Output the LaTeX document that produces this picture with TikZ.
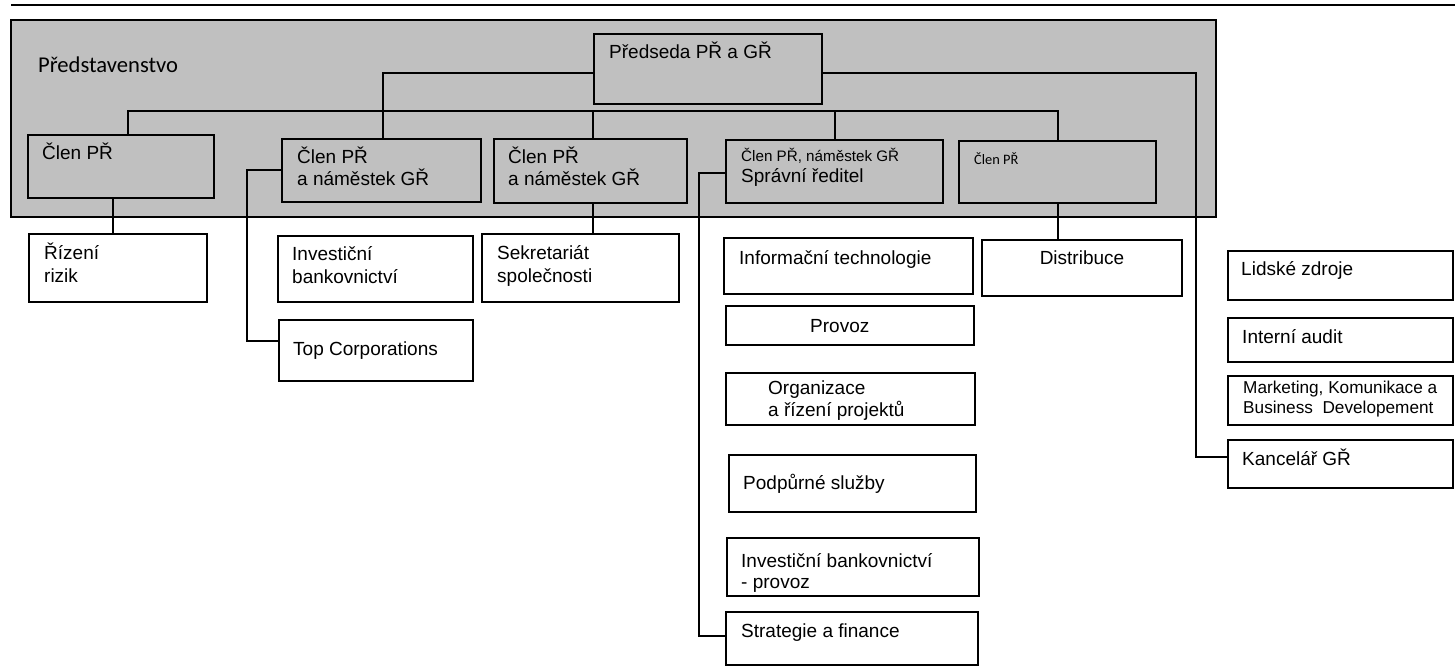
\documentclass[tikz,border=0pt]{standalone}
\usepackage{fontspec}
\setmainfont{Liberation Sans}
\newfontfamily\calfont{Carlito}
\usetikzlibrary{calc}
\definecolor{silverg}{RGB}{192,192,192}
\begin{document}
\begin{tikzpicture}[x=1pt,y=-1pt,
  box/.style={draw, line width=2pt, anchor=north west, outer sep=0pt, inner sep=0pt},
  inbox/.style={box, fill=silverg},
  outbox/.style={box, fill=white},
  lbl/.style={anchor=base west, inner sep=0pt, align=left, font=\fontsize{19}{22.5}\selectfont},
  conn/.style={line width=1.8pt}]
\useasboundingbox (0,0) rectangle (1455,668);
% header rule
\coordinate (tl) at (11,5);
\coordinate (tr) at (1455,5);
\draw[line width=2.2pt] (tl) -- (tr);
% board background
\node[box, line width=2.6pt, fill=silverg, minimum width=1205pt, minimum height=197pt] (board) at (11,20) {};
% joint columns
\coordinate (j1) at (113,0);
\coordinate (j2) at (383,0);
\coordinate (j3) at (128,0);
\coordinate (j4) at (593,0);
\coordinate (j5) at (835,0);
\coordinate (j6) at (1058,0);
\coordinate (j7) at (247,0);
\coordinate (j8) at (699,0);
\coordinate (j9) at (1196,0);
\coordinate (bus) at (0,111);
% boxes inside board
\node[inbox, minimum width=228pt, minimum height=70pt] (ch) at (594,34) {};
\node[inbox, minimum width=186pt, minimum height=63pt] (m1) at (28,135) {};
\node[inbox, minimum width=199pt, minimum height=63pt] (m2) at (282,139) {};
\node[inbox, minimum width=193pt, minimum height=64pt] (m3) at (494,139) {};
\node[inbox, minimum width=217pt, minimum height=63pt] (m4) at (726,140) {};
\node[inbox, minimum width=197pt, minimum height=62pt] (m5) at (959,141) {};
% boxes below
\node[outbox, minimum width=178pt, minimum height=68pt] (r1) at (29,234) {};
\node[outbox, minimum width=195pt, minimum height=66pt] (b1) at (278,236) {};
\node[outbox, minimum width=194pt, minimum height=61pt] (b2) at (279,320) {};
\node[outbox, minimum width=197pt, minimum height=68pt] (s1) at (482,234) {};
\node[outbox, minimum width=249pt, minimum height=56pt] (i1) at (724,238) {};
\node[outbox, minimum width=248pt, minimum height=39pt] (i2) at (726,306) {};
\node[outbox, minimum width=249pt, minimum height=52pt] (i3) at (726,373) {};
\node[outbox, minimum width=247pt, minimum height=57pt] (i4) at (729,455) {};
\node[outbox, minimum width=252pt, minimum height=58pt] (i5) at (727,538) {};
\node[outbox, minimum width=252pt, minimum height=53pt] (i6) at (726,612) {};
\node[outbox, minimum width=200pt, minimum height=56pt] (d1) at (982,240) {};
\node[outbox, minimum width=225pt, minimum height=49pt] (k1) at (1228,251) {};
\node[outbox, minimum width=225pt, minimum height=44pt] (k2) at (1228,318) {};
\node[outbox, minimum width=225pt, minimum height=49pt] (k3) at (1228,376) {};
\node[outbox, minimum width=225pt, minimum height=48pt] (k4) at (1228,440) {};
% connectors
\draw[conn] ($(ch.south west)+(0,-31)$) -| (m2.north -| j2);
\draw[conn] (m1.north -| j3) |- (bus -| j6) -- (m5.north -| j6);
\draw[conn] (bus -| j4) -- (m3.north -| j4);
\draw[conn] (bus -| j5) -- (m4.north -| j5);
\draw[conn] (m1.south -| j1) -- (r1.north -| j1);
\draw[conn] ($(m2.north west)+(0,31)$) -| ($(b2.north west)+(-32,21)$) -- ($(b2.north west)+(0,21)$);
\draw[conn] ($(b1.north west)+(0,21)$ -| j7) -- ($(b1.north west)+(0,21)$);
\draw[conn] (m3.south -| j4) -- (s1.north -| j4);
\draw[conn] ($(m4.north west)+(0,33)$) -| ($(i6.north west)+(-27,24)$) -- ($(i6.north west)+(0,24)$);
\draw[conn] ($(i1.north west)+(0,18)$ -| j8) -- ($(i1.north west)+(0,18)$);
\draw[conn] ($(i2.north west)+(0,17)$ -| j8) -- ($(i2.north west)+(0,17)$);
\draw[conn] ($(i3.north west)+(0,25)$ -| j8) -- ($(i3.north west)+(0,25)$);
\draw[conn] ($(i4.north west)+(0,30)$ -| j8) -- ($(i4.north west)+(0,30)$);
\draw[conn] ($(i5.north west)+(0,27)$ -| j8) -- ($(i5.north west)+(0,27)$);
\draw[conn] (m5.south -| j6) -- (d1.north -| j6);
\draw[conn] ($(ch.south east)+(0,-31)$) -| ($(k4.north west)+(-32,17)$) -- ($(k4.north west)+(0,17)$);
\draw[conn] ($(k1.north west)+(0,23)$ -| j9) -- ($(k1.north west)+(0,23)$);
\draw[conn] ($(k2.north west)+(0,23)$ -| j9) -- ($(k2.north west)+(0,23)$);
\draw[conn] ($(k3.north west)+(0,29)$ -| j9) -- ($(k3.north west)+(0,29)$);
% texts (multi-line nodes: base = last line's baseline)
\node[lbl, font=\calfont\fontsize{22.6}{26}\selectfont] (prt) at (38,73) {Představenstvo};
\node[lbl] (cht) at (609,59) {Předseda PŘ a GŘ};
\node[lbl] (m1t) at (42,160) {Člen PŘ};
\node[lbl, font=\fontsize{19}{22}\selectfont] (m2t) at (297,186) {Člen PŘ\\a náměstek GŘ};
\node[lbl, font=\fontsize{19}{22}\selectfont] (m3t) at (508,186) {Člen PŘ\\a náměstek GŘ};
\node[lbl, font=\fontsize{15.2}{18}\selectfont] (m4ta) at (741,162) {Člen PŘ, náměstek GŘ};
\node[lbl] (m4tb) at (741,183) {Správní ředitel};
\node[lbl, font=\calfont\fontsize{14.4}{17}\selectfont] (m5t) at (974,165) {Člen PŘ};
\node[lbl, font=\fontsize{19}{23}\selectfont] (r1t) at (44,282) {Řízení\\rizik};
\node[lbl, font=\fontsize{19}{23}\selectfont] (b1t) at (292,283) {Investiční\\bankovnictví};
\node[lbl] (b2t) at (293,355) {Top Corporations};
\node[lbl, font=\fontsize{19}{23}\selectfont] (s1t) at (497,282) {Sekretariát\\společnosti};
\node[lbl] (i1t) at (739,264) {Informační technologie};
\node[lbl] (i2t) at (810,332) {Provoz};
\node[lbl, font=\fontsize{19}{22}\selectfont] (i3t) at (768,416) {Organizace\\a řízení projektů};
\node[lbl] (i4t) at (743,489) {Podpůrné služby};
\node[lbl, font=\fontsize{19}{21}\selectfont] (i5t) at (741,588) {Investiční bankovnictví\\- provoz};
\node[lbl] (i6t) at (741,637) {Strategie a finance};
\node[lbl, anchor=base] (d1t) at (1082,265) {Distribuce};
\node[lbl] (k1t) at (1241,276) {Lidské zdroje};
\node[lbl] (k2t) at (1242,343) {Interní audit};
\node[lbl, font=\fontsize{17.2}{20}\selectfont] (k3t) at (1243,413) {Marketing, Komunikace a\\Business\ \ Developement};
\node[lbl] (k4t) at (1242,465) {Kancelář GŘ};
\end{tikzpicture}
\end{document}
